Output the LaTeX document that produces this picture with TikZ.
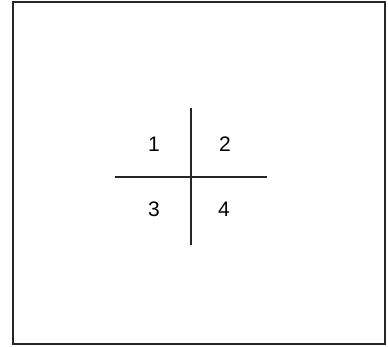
\documentclass[tikz,border=0pt]{standalone}
\usepackage{fontspec}
\setmainfont{Liberation Sans}
\begin{document}
\begin{tikzpicture}[x=1pt,y=-1pt,
  frame/.style={draw=black!85,line width=2pt},
  axis/.style={draw=black!85,line width=2.2pt},
  num/.style={font=\fontsize{21}{24}\selectfont,inner sep=0pt}]
\useasboundingbox[fill=white] (0,0) rectangle (388,347);
\draw[frame] (13,2.5) rectangle (384.5,344);
\coordinate (top) at (191,108);
\coordinate (bot) at (191,245);
\coordinate (lft) at (115,177);
\coordinate (rgt) at (267,177);
\draw[axis] (top) -- (bot);
\draw[axis,line width=1.6pt] (lft) -- (rgt);
\node[num] (n1) at (154,144) {1};
\node[num] (n2) at (225,144) {2};
\node[num] (n3) at (154,209) {3};
\node[num] (n4) at (224,209) {4};
\end{tikzpicture}
\end{document}
